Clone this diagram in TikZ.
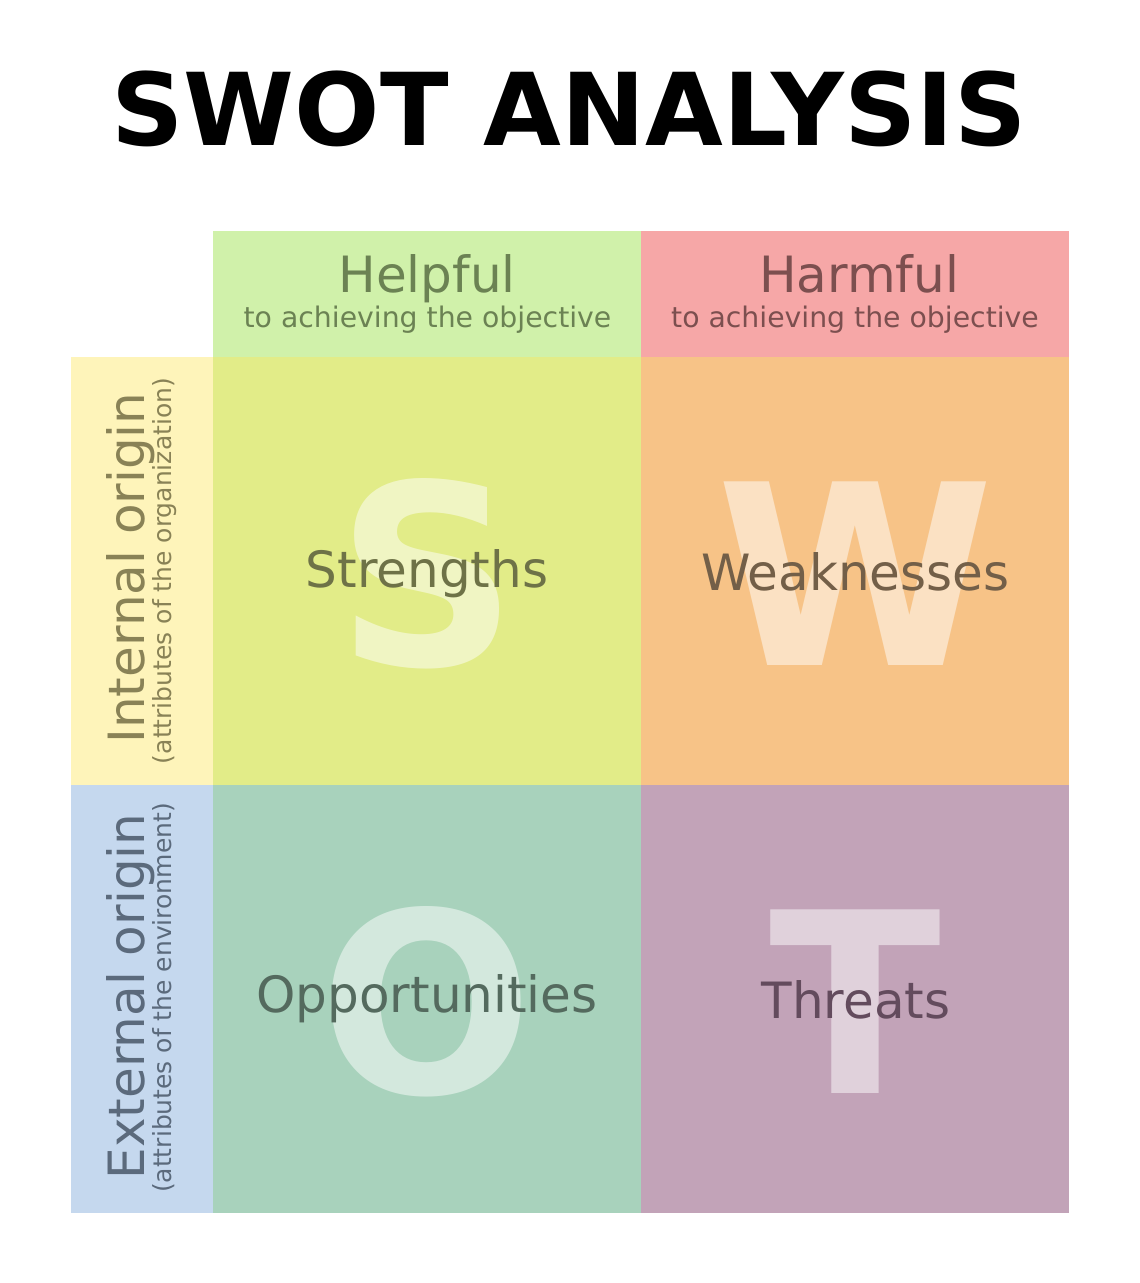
\documentclass[tikz,border=0pt]{standalone}
\usepackage{fontspec}
\setmainfont{DejaVu Sans}
\definecolor{helpbg}{HTML}{D0F1AA}
\definecolor{harmbg}{HTML}{F6A7A7}
\definecolor{intbg}{HTML}{FEF4BA}
\definecolor{extbg}{HTML}{C5D8EE}
\definecolor{sbg}{HTML}{E2EC88}
\definecolor{wbg}{HTML}{F7C387}
\definecolor{obg}{HTML}{A8D2BC}
\definecolor{tbg}{HTML}{C2A3B8}
\definecolor{helptx}{HTML}{6B8253}
\definecolor{harmtx}{HTML}{7C4F4F}
\definecolor{inttx}{HTML}{898256}
\definecolor{exttx}{HTML}{5B6A7C}
\definecolor{stx}{HTML}{6E7247}
\definecolor{wtx}{HTML}{735F48}
\definecolor{otx}{HTML}{546A5E}
\definecolor{ttx}{HTML}{634B5D}
\begin{document}
\begin{tikzpicture}[x=1pt,y=-1pt,
  cell/.style={rectangle, draw=none, inner sep=0pt, outer sep=0pt},
  hdrcell/.style={cell, minimum width=428pt, minimum height=126pt},
  sidecell/.style={cell, minimum width=142pt, minimum height=428pt},
  quadcell/.style={cell, minimum width=428pt, minimum height=428pt},
  lbl/.style={inner sep=0pt, anchor=base, font=\fontsize{50}{60}\selectfont},
  sublbl/.style={inner sep=0pt, anchor=base, font=\fontsize{28.3}{34}\selectfont},
  sidesub/.style={inner sep=0pt, anchor=base, rotate=90, font=\fontsize{25}{30}\selectfont},
  sidelbl/.style={lbl, rotate=90},
  bigletter/.style={inner sep=0pt, anchor=base, text=white, text opacity=0.5,
    font=\fontsize{252}{252}\selectfont\bfseries}]
\fill[white] (0,0) rectangle (1140,1283);
\useasboundingbox (0,0) rectangle (1140,1283);
% title
\node[inner sep=0pt, anchor=base, font=\fontsize{100.5}{110}\selectfont\bfseries] (title) at (569,145) {SWOT ANALYSIS};
% headers
\node[hdrcell, fill=helpbg] (helpful) at (427,294) {};
\node[hdrcell, fill=harmbg] (harmful) at (854.5,294) {};
\node[sidecell, fill=intbg] (internal) at (142,571) {};
\node[sidecell, fill=extbg] (external) at (142,998.5) {};
% quadrants
\node[quadcell, fill=sbg] (scell) at (427,571) {};
\node[quadcell, fill=wbg] (wcell) at (854.5,571) {};
\node[quadcell, fill=obg] (ocell) at (427,998.5) {};
\node[quadcell, fill=tbg] (tcell) at (854.5,998.5) {};
% big letters
\node[bigletter] (bigS) at (427,665) {S};
\node[bigletter] (bigW) at (855,665) {W};
\node[bigletter] (bigO) at (427,1093) {O};
\node[bigletter] (bigT) at (855.5,1093) {T};
% header texts
\node[lbl, text=helptx] (helpfultx) at (427,292) {Helpful};
\node[sublbl, text=helptx] (helpfulsub) at (427.5,327) {to achieving the objective};
\node[lbl, text=harmtx] (harmfultx) at (859,292) {Harmful};
\node[sublbl, text=harmtx] (harmfulsub) at (855,327) {to achieving the objective};
% side texts
\node[sidelbl, text=inttx] (internaltx) at (144,568) {Internal origin};
\node[sidesub, text=inttx] (internalsub) at (171,571) {(attributes of the organization)};
\node[sidelbl, text=exttx] (externaltx) at (144,996.5) {External origin};
\node[sidesub, text=exttx] (externalsub) at (171,998) {(attributes of the environment)};
% quadrant labels
\node[lbl, text=stx] (strengths) at (427,587) {Strengths};
\node[lbl, text=wtx] (weaknesses) at (855.5,590) {Weaknesses};
\node[lbl, text=otx] (opportunities) at (427,1012) {Opportunities};
\node[lbl, text=ttx] (threats) at (856,1018) {Threats};
\end{tikzpicture}
\end{document}
